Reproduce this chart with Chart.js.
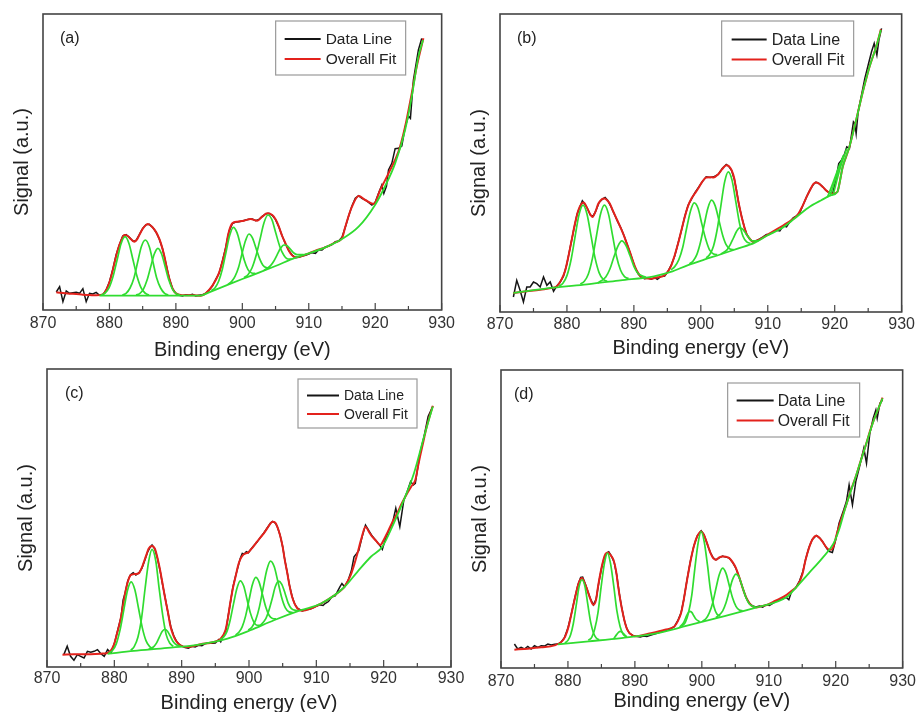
<!DOCTYPE html>
<html>
<head>
<meta charset="utf-8">
<script src="https://cdn.jsdelivr.net/npm/chart.js@4.4.0/dist/chart.umd.min.js"></script>
<style>
  html, body { margin: 0; padding: 0; background: #fff; overflow: hidden; }
  body { width: 919px; height: 712px; position: relative; }
  .panel { position: absolute; }
</style>
</head>
<body>
<div class="panel" style="left:0px;top:11px;width:459px;height:351px"><canvas id="chartA"></canvas></div>
<div class="panel" style="left:457px;top:11px;width:461px;height:349px"><canvas id="chartB"></canvas></div>
<div class="panel" style="left:4px;top:366px;width:463px;height:349px"><canvas id="chartC"></canvas></div>
<div class="panel" style="left:458px;top:367px;width:462px;height:346px"><canvas id="chartD"></canvas></div>

<script>
// x axis (binding energy, eV)
const xMin = 870;
const xMax = 930;
const tickStep = 10;

// panel (a)
const dataA = [[872,54],[872.5,70],[873,25],[873.5,57],[874,50],[874.5,52],[875,53],[875.5,50],[876,64],[876.5,25],[877,50],[877.5,48],[878,53],[878.5,44],[879,45],[879.5,60],[880,85],[880.5,122],[881,165],[881.5,196],[882,222],[882.5,226],[883,218],[883.5,207],[884,208],[884.5,226],[885,245],[885.5,256],[886,257],[886.5,248],[887,234],[887.5,213],[888,183],[888.5,140],[889,95],[889.5,64],[890,50],[890.5,44],[891,42],[891.5,46],[892,44],[892.5,47],[893,42],[893.5,44],[894,46],[894.5,50],[895,60],[895.5,72],[896,92],[896.5,110],[897,147],[897.5,188],[898,236],[898.5,259],[899,264],[899.5,265],[900,267],[900.5,270],[901,272],[901.5,273],[902,268],[902.5,272],[903,281],[903.5,288],[904,290],[904.5,284],[905,271],[905.5,249],[906,222],[906.5,198],[907,178],[907.5,165],[908,157],[908.5,158],[909,162],[909.5,164],[910,168],[910.5,172],[911,170],[911.5,181],[912,180],[912.5,189],[913,192],[913.5,196],[914,205],[914.5,207],[915,218],[915.5,248],[916,282],[916.5,312],[917,335],[917.5,343],[918,335],[918.5,330],[919,323],[919.5,315],[920,323],[920.5,350],[921,375],[921.3,350],[921.7,372],[922,420],[922.5,440],[923,484],[923.5,485],[924,492],[924.5,548],[925,582],[925.3,575],[925.75,690],[926.5,780],[927,815]];
const fitA = [[872,53],[873,51],[874,49],[875,48],[876,46],[877,45],[878,44],[879,47],[879.75,70],[880.25,100],[880.75,140],[881.25,180],[881.75,208],[882.25,225],[882.75,222],[883.25,212],[883.75,205],[884.25,215],[884.75,235],[885.25,250],[885.75,258],[886.25,253],[886.75,242],[887.25,225],[887.75,200],[888.25,163],[888.75,115],[889.25,78],[889.75,55],[890.5,46],[891.5,44],[892.75,44],[893.75,43],[895,60],[896,90],[896.5,112],[897,145],[897.5,185],[897.85,225],[898.5,260],[899.25,265],[900.25,268],[901.25,273],[902.25,268],[903,280],[903.75,290],[904.5,285],[905,272],[905.5,250],[906,222],[906.5,200],[907,178],[907.5,164],[908,158],[909,162],[910,170],[911,178],[912.5,188],[914,203],[915,215],[915.5,250],[916.5,310],[917.5,342],[918.5,330],[919.75,318],[920.75,360],[922,410],[923.5,475],[924.5,550],[925.5,650],[926.25,730],[927.25,815]];
const bgA = [[878.5,43],[884,43],[890,43],[893.7,43],[895,53],[897.5,73],[900,93],[902.5,112],[905,132],[908,157],[910,170],[912.5,188],[915,213],[917.5,250],[920,316],[921.5,372],[923,440],[924.5,540],[925.5,640],[926.5,760],[927.2,810]];
const peaksA = [
  [[878.75,45],[879.35,51],[879.95,67],[880.55,101],[881.15,150],[881.75,199],[882.35,220],[882.95,199],[883.55,150],[884.15,101],[884.75,67],[885.35,51],[885.95,45]],
  [[881.95,45],[882.5,50],[883.1,66],[883.7,97],[884.25,144],[884.8,190],[885.4,210],[886,190],[886.55,144],[887.1,97],[887.7,66],[888.3,50],[888.85,45]],
  [[884,45],[884.55,49],[885.1,62],[885.65,89],[886.2,129],[886.75,168],[887.3,185],[887.85,168],[888.4,129],[888.95,89],[889.5,62],[890.05,49],[890.6,45]],
  [[895.35,58],[895.9,67],[896.45,87],[897,123],[897.55,174],[898.1,224],[898.65,248],[899.2,232],[899.75,192],[900.3,149],[900.85,121],[901.4,111],[901.95,110]],
  [[897.85,77],[898.4,86],[898.9,101],[899.45,129],[899.95,169],[900.5,209],[901,228],[901.5,217],[902.05,186],[902.6,154],[903.1,134],[903.6,127],[904.15,126]],
  [[900.25,97],[900.85,106],[901.45,126],[902.05,162],[902.65,211],[903.25,261],[903.85,285],[904.45,271],[905.05,230],[905.65,190],[906.25,164],[906.85,153],[907.45,153]],
  [[903.25,119],[904.25,133],[904.75,147],[905.25,166],[905.75,185],[906.25,195],[906.75,193],[907.25,182],[907.75,171],[908.25,166],[909.25,166]]
];

// panel (b)
const dataB = [[872,45],[872.5,95],[873,65],[873.5,30],[874,75],[874.5,75],[875,90],[875.5,85],[876,75],[876.5,105],[877,80],[877.5,90],[878,62],[878.5,78],[879,90],[879.5,108],[880,145],[880.5,195],[881,245],[881.5,292],[882,318],[882.3,333],[882.6,325],[883,313],[883.5,290],[883.9,287],[884.3,302],[884.8,328],[885.3,338],[885.7,343],[886.1,334],[886.6,315],[887.1,292],[887.6,270],[888.1,250],[888.6,225],[889.1,196],[889.6,168],[890.1,138],[890.6,115],[891.1,104],[891.6,100],[892.1,102],[892.6,98],[893.1,103],[893.5,98],[894,106],[894.6,108],[895.1,122],[895.6,142],[896.1,168],[896.6,206],[897.1,244],[897.6,286],[898.1,320],[898.6,338],[899.1,357],[899.6,372],[900.2,390],[900.8,405],[901.4,403],[901.9,405],[902.6,412],[903.2,430],[903.8,442],[904.2,436],[904.6,424],[905,398],[905.3,368],[905.7,320],[906.1,286],[906.5,254],[906.8,236],[907.3,218],[907.8,211],[908.3,214],[908.8,219],[909.3,225],[909.8,232],[910.2,232],[910.8,240],[911.3,245],[911.8,243],[912.3,258],[912.8,255],[913.3,270],[913.8,282],[914.3,288],[914.8,298],[915.3,322],[915.8,345],[916.3,366],[916.8,382],[917.2,389],[917.7,385],[918.2,375],[918.7,364],[919.2,358],[919.7,355],[920.2,400],[920.6,445],[921,455],[921.4,470],[921.8,495],[922.2,490],[922.5,530],[922.8,570],[923,565],[923.2,535],[923.5,600],[924,650],[924.5,700],[925,740],[925.5,780],[925.9,805],[926.3,770],[926.6,815],[927,850]];
const fitB = [[872,57],[874,62],[876,67],[878,73],[878.5,77],[879.25,100],[879.75,125],[880.2,165],[880.7,215],[881.2,265],[881.7,305],[882.2,325],[882.5,328],[883,312],[883.5,292],[883.8,285],[884.2,298],[884.7,325],[885.2,338],[885.6,340],[886,335],[886.4,325],[886.9,302],[887.4,280],[887.9,258],[888.4,235],[888.9,208],[889.4,180],[889.9,150],[890.4,125],[891.1,105],[891.8,101],[892.6,100],[893.5,104],[894.6,110],[895.1,122],[895.6,140],[896.1,170],[896.6,205],[897.1,245],[897.6,285],[898.1,318],[898.6,340],[899.1,355],[899.6,370],[900.2,390],[900.8,403],[901.4,404],[901.9,403],[902.6,413],[903.2,428],[903.8,440],[904.2,437],[904.6,425],[905,400],[905.3,365],[905.7,322],[906.1,285],[906.5,255],[906.8,235],[907.3,220],[907.8,210],[909,220],[910.5,238],[911.5,250],[912.5,262],[913.5,275],[914.5,292],[915.2,318],[915.8,345],[916.3,365],[916.8,383],[917.2,388],[917.7,384],[918.2,375],[918.7,365],[919.2,357],[919.8,355],[920.4,360],[920.8,395],[921.2,435],[921.7,465],[922.2,495],[922.7,535],[923.2,575],[923.7,618],[924.2,660],[924.7,698],[925.2,735],[925.7,765],[926.2,795],[926.9,847]];
const bgB = [[872,57],[878,73],[883,83],[888,95],[893,107],[895.5,120],[898,140],[900.5,157],[903,173],[905.5,190],[908,207],[910,230],[912,250],[914,280],[916,312],[918,335],[919.5,350],[920.4,360],[921.2,435],[922.2,495],[923.2,575],[924.2,660],[925.2,735],[926.2,795],[926.9,845]];
const peaksB = [
  [[878.8,77],[879.4,86],[880,109],[880.6,155],[881.2,224],[881.8,291],[882.4,320],[883,293],[883.6,228],[884.2,162],[884.8,118],[885.4,98],[886,92]],
  [[882,84],[882.6,92],[883.2,114],[883.8,160],[884.4,227],[885,292],[885.6,320],[886.2,294],[886.8,231],[887.4,167],[888,126],[888.6,106],[889.2,100]],
  [[884.6,87],[885.8,105],[886.4,128],[887,164],[887.6,197],[888.2,213],[888.8,200],[889.4,170],[890,137],[890.6,116],[891.8,104]],
  [[895.55,126],[896.1,136],[896.7,156],[897.3,194],[897.85,248],[898.45,302],[899,327],[899.6,310],[900.15,264],[900.75,217],[901.3,186],[901.9,174],[902.45,172]],
  [[898.3,144],[898.85,153],[899.4,172],[899.95,209],[900.5,261],[901.05,311],[901.6,335],[902.15,318],[902.7,275],[903.25,231],[903.8,201],[904.35,189],[904.9,187]],
  [[900.8,162],[901.35,173],[901.9,198],[902.45,248],[903,319],[903.55,389],[904.1,420],[904.65,396],[905.2,334],[905.75,269],[906.3,227],[906.85,210],[907.4,206]],
  [[903,174],[903.95,187],[904.4,202],[904.85,221],[905.35,242],[905.8,252],[906.25,248],[906.75,234],[907.2,222],[907.65,213],[908.6,213]],
  [[918.9,343],[919.8,390],[920.8,445]],
  [[919.3,348],[920.3,410],[921.3,470]],
  [[919.8,354],[920.8,430],[921.8,490]]
];

// panel (c)
const dataC = [[872.5,37],[873,62],[873.5,32],[874,20],[874.5,37],[875,32],[875.5,27],[876,47],[876.5,44],[877,47],[877.5,52],[878,40],[878.5,32],[879,52],[879.5,42],[880,70],[880.5,110],[881,150],[881.3,200],[881.6,222],[882,258],[882.4,276],[882.8,282],[883.2,275],[883.7,283],[884.1,296],[884.5,318],[884.9,342],[885.3,358],[885.6,365],[886,354],[886.4,325],[886.8,288],[887.2,243],[887.6,202],[888,158],[888.4,120],[888.8,95],[889.2,78],[889.6,68],[890,63],[890.5,58],[891,56],[891.5,62],[892,60],[892.5,65],[893,64],[893.5,70],[894,72],[894.5,71],[895,72],[895.5,82],[895.8,75],[896.2,95],[896.6,112],[896.9,152],[897.2,188],[897.6,238],[898,272],[898.4,302],[898.7,325],[899,340],[899.3,338],[899.6,345],[899.9,342],[900.2,350],[900.7,363],[901.2,374],[901.7,388],[902.2,401],[902.8,419],[903.2,431],[903.5,436],[903.9,431],[904.2,420],[904.6,396],[905,360],[905.3,323],[905.7,280],[906,246],[906.4,211],[906.8,188],[907.2,176],[907.9,168],[908.5,172],[909,173],[909.6,178],[910,182],[910.5,186],[911,184],[911.3,190],[911.8,196],[912.3,210],[912.8,213],[913.5,240],[913.8,250],[914.2,240],[914.7,258],[915.2,288],[915.6,330],[916,340],[916.3,348],[916.8,390],[917.3,425],[917.8,408],[918.3,392],[918.9,377],[919.5,362],[919.8,352],[920.3,385],[920.8,410],[921.3,430],[921.8,475],[922.4,420],[923,500],[923.5,525],[924,555],[924.4,545],[924.7,550],[925.4,640],[926,690],[926.6,750],[927.3,780]];
const fitC = [[872.3,37],[874,38],[876,38],[878,40],[879,42],[879.9,65],[880.4,100],[880.9,140],[881.3,185],[881.6,220],[882,255],[882.4,275],[882.9,278],[883.4,279],[883.7,282],[884.1,298],[884.4,315],[884.8,338],[885.1,355],[885.6,362],[886.1,350],[886.5,318],[886.8,290],[887.2,245],[887.6,200],[888,160],[888.3,125],[888.7,98],[889.1,80],[889.8,65],[890.8,60],[892.8,68],[894.8,75],[895.8,85],[896.5,110],[896.9,150],[897.2,190],[897.6,235],[898,270],[898.4,305],[898.7,322],[899.1,335],[899.5,340],[899.9,343],[900.2,350],[900.7,362],[901.2,375],[901.7,388],[902.2,400],[902.8,418],[903.2,430],[903.5,435],[903.9,432],[904.2,420],[904.6,395],[905,360],[905.3,322],[905.7,280],[906,245],[906.4,210],[906.8,188],[907.2,175],[907.9,168],[909.2,175],[910.7,190],[911.6,200],[912.5,212],[913.4,225],[914.1,238],[914.6,255],[915.1,275],[915.6,305],[916.1,340],[916.7,385],[917.3,420],[917.8,405],[918.3,390],[918.9,377],[919.5,365],[920,380],[920.5,400],[921.2,430],[922,460],[922.7,490],[923.5,520],[924.1,540],[924.7,560],[925.1,600],[925.4,630],[925.9,675],[926.4,720],[926.9,755],[927.3,782]];
const bgC = [[879,39],[882.9,48],[887.9,57],[892.8,68],[896.8,85],[900.2,110],[903.7,140],[907.7,170],[910.7,190],[914.1,238],[916.1,285],[918.1,330],[919.8,360],[921.5,430],[923,500],[924.5,580],[926,690],[927.3,780]];
const peaksC = [
  [[879.2,42],[879.75,50],[880.3,70],[880.85,111],[881.4,170],[881.95,229],[882.5,255],[883.05,231],[883.6,175],[884.15,118],[884.7,79],[885.25,61],[885.8,55]],
  [[882.45,50],[882.95,61],[883.5,89],[884.05,147],[884.55,232],[885.1,316],[885.6,352],[886.15,318],[886.65,236],[887.2,153],[887.7,97],[888.25,71],[888.75,62]],
  [[885.1,53],[885.9,62],[886.3,73],[886.7,90],[887.1,106],[887.5,113],[887.9,107],[888.3,93],[888.7,77],[889.1,68],[889.9,62]],
  [[895.7,82],[896.2,89],[896.7,105],[897.2,140],[897.7,189],[898.2,235],[898.7,258],[899.2,243],[899.7,203],[900.2,162],[900.7,135],[901.2,125],[901.7,125]],
  [[898,96],[898.5,104],[899,121],[899.5,153],[900,200],[900.5,246],[901,268],[901.5,254],[902,217],[902.5,179],[903,154],[903.5,145],[904,144]],
  [[899.9,110],[900.45,120],[901,141],[901.55,180],[902.1,236],[902.65,291],[903.2,317],[903.75,300],[904.3,255],[904.85,208],[905.4,177],[905.95,165],[906.5,163]],
  [[901.55,122],[902.5,145],[902.95,169],[903.45,205],[903.9,240],[904.4,257],[904.85,248],[905.35,221],[905.8,192],[906.3,175],[907.25,168]]
];

// panel (d)
const dataD = [[872,72],[872.5,57],[873,62],[873.5,57],[874,65],[874.5,57],[875,67],[875.5,62],[876,67],[876.5,66],[877,72],[877.5,69],[878,71],[878.5,72],[879,78],[879.5,92],[880,120],[880.5,162],[881,208],[881.5,250],[881.9,272],[882.2,273],[882.6,252],[883,228],[883.4,206],[883.8,190],[884.2,206],[884.6,255],[885,298],[885.4,330],[885.8,345],[886.1,349],[886.5,336],[886.9,318],[887.3,278],[887.7,220],[888,185],[888.4,145],[888.8,118],[889.2,104],[889.7,98],[890.2,95],[890.8,93],[891.3,96],[891.8,95],[892.3,98],[892.8,101],[893.3,104],[893.8,108],[894.3,110],[894.8,113],[895.3,118],[895.9,124],[896.4,142],[896.9,166],[897.3,205],[897.8,266],[898.3,322],[898.8,366],[899.3,396],[899.9,412],[900.3,401],[900.6,385],[901,361],[901.3,346],[901.7,331],[902.1,325],[902.6,331],[903.1,336],[903.6,333],[904.1,330],[904.6,317],[905.1,299],[905.6,271],[906.1,241],[906.6,212],[907.1,194],[907.6,186],[908.1,183],[908.6,186],[909.1,183],[909.6,190],[910.1,188],[910.6,194],[911.1,200],[911.6,205],[912.1,208],[912.6,212],[913,205],[913.4,230],[914,240],[914.6,262],[915.1,290],[915.5,326],[916,362],[916.5,386],[917.1,398],[917.6,391],[918,381],[918.7,358],[919,350],[919.5,347],[920,385],[920.5,435],[921.2,475],[921.6,500],[922,550],[922.5,490],[923,560],[923.5,600],[924.2,660],[924.6,615],[925.1,705],[925.6,750],[926,775],[926.2,750],[926.6,795],[927,805]];
const fitD = [[872,55],[874,58],[876,62],[878,68],[879.1,80],[879.6,95],[880.1,125],[880.6,170],[881.1,215],[881.6,255],[882.1,270],[882.5,255],[882.8,240],[883.3,210],[883.8,190],[884.2,205],[884.5,245],[884.9,290],[885.3,325],[885.6,342],[886,347],[886.4,338],[886.8,325],[887.2,290],[887.5,245],[887.9,195],[888.3,155],[888.6,130],[889,110],[889.5,100],[890,95],[892,103],[894.5,115],[895.9,125],[896.4,140],[896.9,165],[897.3,205],[897.8,265],[898.3,320],[898.8,365],[899.3,395],[899.9,410],[900.3,400],[900.6,385],[901,362],[901.3,345],[901.7,330],[902.1,325],[902.6,332],[903.1,335],[903.6,334],[904.1,330],[904.6,318],[905.1,300],[905.6,272],[906.1,240],[906.6,213],[907.1,195],[907.6,185],[908.1,182],[909,186],[909.8,190],[911,202],[912.3,215],[913.3,230],[914.3,248],[915,280],[915.5,325],[916,360],[916.5,385],[917.1,397],[917.6,390],[918,380],[918.7,360],[919.1,355],[919.5,358],[920.2,405],[920.8,445],[921.5,485],[922.2,530],[923,575],[923.7,620],[924.5,670],[925.1,710],[925.7,745],[926.4,780],[927,812]];
const bgD = [[878.5,71],[883.1,80],[888,90],[893,103],[897.8,127],[902.8,153],[907.8,180],[912.8,215],[914,240],[916,285],[918,330],[919.7,375],[920.5,415],[921.5,485],[923,575],[924.5,670],[925.7,745],[927,810]];
const peaksD = [
  [[879.55,75],[880,83],[880.4,100],[880.8,133],[881.25,190],[881.65,243],[882.1,265],[882.55,244],[882.95,193],[883.4,137],[883.8,106],[884.2,91],[884.65,85]],
  [[883.05,83],[883.55,92],[884,117],[884.5,168],[884.95,242],[885.45,314],[885.9,345],[886.35,315],[886.85,245],[887.3,173],[887.8,124],[888.25,101],[888.75,94]],
  [[886.8,87],[887.3,101],[887.55,107],[887.8,110],[888.05,108],[888.3,103],[888.8,92]],
  [[896.7,123],[897.3,137],[897.6,151],[897.9,164],[898.2,170],[898.5,167],[898.8,157],[899.1,147],[899.7,139]],
  [[897.05,126],[897.55,138],[898,165],[898.5,219],[898.95,298],[899.45,376],[899.9,410],[900.35,380],[900.85,308],[901.3,233],[901.8,185],[902.25,162],[902.75,156]],
  [[900.1,141],[900.6,148],[901.1,165],[901.6,194],[902.1,238],[902.6,280],[903.1,300],[903.6,285],[904.1,248],[904.6,210],[905.1,185],[905.6,174],[906.1,172]],
  [[902.1,151],[903.1,171],[903.6,195],[904.1,231],[904.6,266],[905.1,282],[905.6,271],[906.1,241],[906.6,211],[907.1,192],[908.1,182]]
];

Chart.defaults.font.family = '"Liberation Sans", Arial, sans-serif';
Chart.defaults.color = '#333';

//khung, vạch chia, legend, nhãn
const framePlugin = {
  id: "frame",
  afterDatasetsDraw(chart, args, opts) {
    const ctx = chart.ctx;
    const a = chart.chartArea;
    const x = chart.scales.x;
    ctx.save();
    ctx.strokeStyle = "#444";
    ctx.lineWidth = 1.2;
    for (let v = xMin; v <= xMax; v += tickStep / 2) {
      const px = x.getPixelForValue(v);
      const len = v % tickStep === 0 ? 7 : 4;
      ctx.beginPath();
      ctx.moveTo(px, a.bottom);
      ctx.lineTo(px, a.bottom - len);
      ctx.stroke();
    }
    ctx.lineWidth = 1.6;
    ctx.strokeRect(a.left, a.top, a.right - a.left, a.bottom - a.top);

    ctx.fillStyle = "#222";
    ctx.font = '16px "Liberation Sans", Arial';
    ctx.textBaseline = "middle";
    ctx.textAlign = "left";
    ctx.fillText(opts.tag, a.left + opts.tagX, a.top + opts.tagY);

    const lg = opts.legend;
    const bx = a.right - lg.right - lg.w;
    const by = a.top + lg.top;
    ctx.fillStyle = "#fff";
    ctx.fillRect(bx, by, lg.w, lg.h);
    ctx.strokeStyle = "#9a9a9a";
    ctx.lineWidth = 1.2;
    ctx.strokeRect(bx, by, lg.w, lg.h);
    ctx.font = lg.font + 'px "Liberation Sans", Arial';
    ["Data Line", "Overall Fit"].forEach(function (name, i) {
      const ds = chart.data.datasets.find((d) => d.label === name);
      const ry = by + lg.rows[i];
      ctx.strokeStyle = ds.borderColor;
      ctx.lineWidth = 2;
      ctx.beginPath();
      ctx.moveTo(bx + lg.lineX, ry);
      ctx.lineTo(bx + lg.lineX + lg.lineLen, ry);
      ctx.stroke();
      ctx.fillStyle = "#222";
      ctx.fillText(name, bx + lg.textX, ry + 1);
    });
    ctx.restore();
  },
};

function lineSet(label, data, color, width, smooth) {
  return {
    label: label,
    data: data,
    borderColor: color,
    borderWidth: width,
    pointRadius: 0,
    fill: false,
    tension: 0,
    cubicInterpolationMode: smooth ? "monotone" : "default",
  };
}

function makeChart(id, data, fit, bg, peaks, yMax, cfg) {
  const sets = [];
  peaks.forEach(function (p, i) {
    sets.push(lineSet("Peak " + (i + 1), p, "#30dc30", 1.7, true));
  });
  sets.push(lineSet("Background", bg, "#30dc30", 1.8, true));
  sets.push(lineSet("Overall Fit", fit, "#e3221c", 2, true));
  sets.push(lineSet("Data Line", data, "#151515", 1.5, false));

  new Chart(document.getElementById(id), {
    type: "line",
    data: { datasets: sets },
    options: {
      responsive: true,
      maintainAspectRatio: false,
      animation: false,
      events: [],
      layout: { padding: { top: 3, right: 16, left: 0, bottom: 0 } },
      plugins: {
        legend: { display: false },
        tooltip: { enabled: false },
        frame: cfg,
      },
      scales: {
        x: {
          type: "linear",
          min: xMin,
          max: xMax,
          grid: { display: false, drawTicks: false },
          border: { display: false },
          ticks: { stepSize: tickStep, padding: cfg.tickPad, color: "#333", font: { size: 16 } },
          title: {
            display: true,
            text: "Binding energy (eV)",
            color: "#222",
            font: { size: 20 },
            padding: { top: 0, bottom: 0 },
          },
          afterFit: function (scale) {
            scale.height = cfg.xH;
          },
        },
        y: {
          type: "linear",
          min: 0,
          max: yMax,
          grid: { display: false, drawTicks: false },
          border: { display: false },
          ticks: { display: false },
          title: {
            display: true,
            text: "Signal (a.u.)",
            color: "#222",
            font: { size: 20 },
            padding: { top: 10, bottom: 0 },
          },
          afterFit: function (scale) {
            scale.width = 43;
          },
        },
      },
    },
    plugins: [framePlugin],
  });
}

makeChart("chartA", dataA, fitA, bgA, peaksA, 888, {
  tag: "(a)", tagX: 17, tagY: 25, xH: 52, tickPad: 4,
  legend: { right: 36, top: 7, w: 130, h: 54, lineX: 9, lineLen: 36, textX: 50, rows: [18, 38], font: 15.5 },
});
makeChart("chartB", dataB, fitB, bgB, peaksB, 893, {
  tag: "(b)", tagX: 17, tagY: 25, xH: 48, tickPad: 3,
  legend: { right: 48, top: 7, w: 132, h: 55, lineX: 10, lineLen: 35, textX: 50, rows: [18.5, 38.5], font: 16 },
});
makeChart("chartC", dataC, fitC, bgC, peaksC, 892, {
  tag: "(c)", tagX: 18, tagY: 25, xH: 48, tickPad: 2,
  legend: { right: 34, top: 10, w: 119, h: 49, lineX: 9, lineLen: 32, textX: 46, rows: [16.5, 35], font: 14 },
});
makeChart("chartD", dataD, fitD, bgD, peaksD, 895, {
  tag: "(d)", tagX: 13, tagY: 25, xH: 45, tickPad: 4,
  legend: { right: 43, top: 13, w: 132, h: 54, lineX: 9, lineLen: 37, textX: 50, rows: [17.5, 37.5], font: 15.8 },
});
</script>
</body>
</html>
